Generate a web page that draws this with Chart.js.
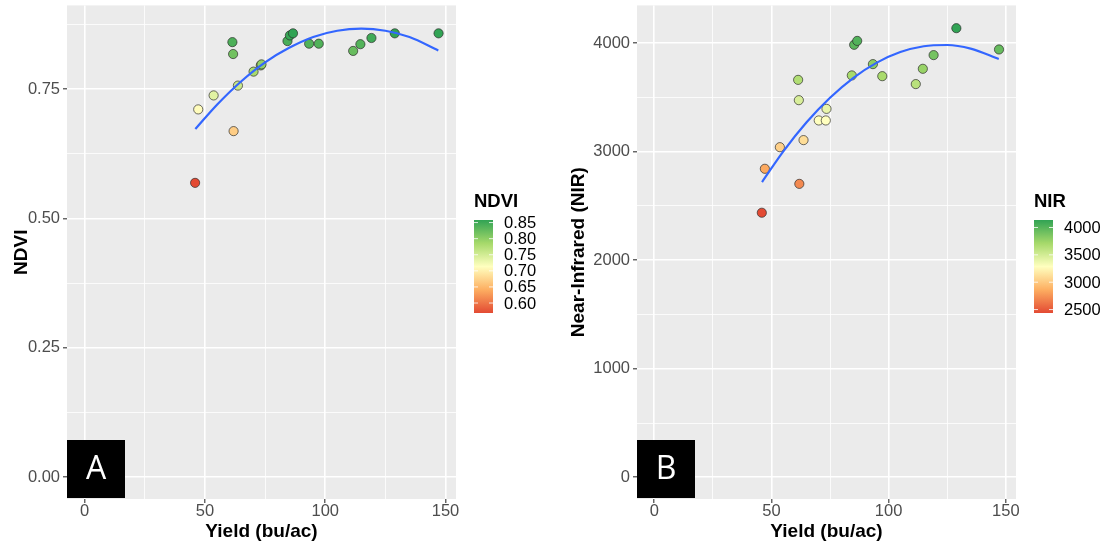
<!DOCTYPE html>
<html>
<head>
<meta charset="utf-8">
<script src="https://cdn.jsdelivr.net/npm/chart.js@4.4.1/dist/chart.umd.min.js"></script>
<style>
    body { margin: 0; background: #fff; width: 1114px; height: 549px; overflow: hidden; position: relative; }
    canvas { position: absolute; top: 0; }
</style>
</head>
<body>
<canvas id="chart_a" width="557" height="549" style="left:0"></canvas>
<canvas id="chart_b" width="557" height="549" style="left:557px"></canvas>
<script>
    // yield per plot, shared by both panels
    const yield_bu = [45.9, 47.2, 53.6, 61.4, 61.7, 61.9, 63.7, 70.2, 73.2, 73.5,
                      84.3, 85.3, 86.6, 93.3, 97.3, 111.6, 114.6, 119.2, 128.9, 147.1];
    const ndvi = [0.569, 0.711, 0.738, 0.841, 0.818, 0.669, 0.757, 0.784, 0.796, 0.798,
                  0.843, 0.854, 0.858, 0.838, 0.838, 0.824, 0.837, 0.849, 0.858, 0.858];
    const nir = [2437, 2842, 3041, 3661, 3474, 2703, 3106, 3287, 3287, 3394,
                 3702, 3984, 4020, 3806, 3695, 3622, 3763, 3889, 4137, 3941];

    // fitted curves
    const fit_x = [46, 55, 65, 75, 85, 95, 105, 115, 125, 135, 147];
    const ndvi_fit = [0.673, 0.720, 0.765, 0.802, 0.830, 0.851, 0.863, 0.867, 0.863, 0.851, 0.825];
    const nir_fit = [2720, 3000, 3270, 3496, 3680, 3820, 3917, 3971, 3982, 3949, 3853];

    const x_major = [0, 50, 100, 150];
    const x_minor = [25, 75, 125];
    const ndvi_major = [0, 0.25, 0.5, 0.75];
    const ndvi_minor = [0.125, 0.375, 0.625, 0.875];
    const nir_major = [0, 1000, 2000, 3000, 4000];
    const nir_minor = [500, 1500, 2500, 3500];
    const ndvi_legend = [0.60, 0.65, 0.70, 0.75, 0.80, 0.85];
    const nir_legend = [2500, 3000, 3500, 4000];

    const ramp = ['#E34A33', '#FDAE61', '#FFFFBF', '#A6D96A', '#31A354'];
    const font_family = "'Liberation Sans', Arial, sans-serif";

    Chart.defaults.font.family = font_family;

    function hexToRgb(h) {
        return [parseInt(h.slice(1, 3), 16), parseInt(h.slice(3, 5), 16), parseInt(h.slice(5, 7), 16)];
    }
    function rampColor(t) {
        t = Math.max(0, Math.min(1, t));
        let seg = Math.min(ramp.length - 2, Math.floor(t * (ramp.length - 1)));
        let f = t * (ramp.length - 1) - seg;
        let a = hexToRgb(ramp[seg]), b = hexToRgb(ramp[seg + 1]);
        let c = a.map((v, i) => Math.round(v + (b[i] - v) * f));
        return `rgb(${c[0]},${c[1]},${c[2]})`;
    }

    const panelBg = {
        id: 'panelBg',
        beforeDraw(chart) {
            const a = chart.chartArea, ctx = chart.ctx;
            ctx.save();
            ctx.fillStyle = '#EBEBEB';
            ctx.fillRect(a.left, a.top, a.right - a.left, a.bottom - a.top);
            ctx.restore();
        }
    };

    const colorbar = {
        id: 'colorbar',
        afterDraw(chart, args, o) {
            const ctx = chart.ctx, a = chart.chartArea;
            const x0 = a.right + 18, top = 220, h = 93, w = 19;
            ctx.save();
            ctx.fillStyle = '#000';
            ctx.font = `bold 18.5px ${font_family}`;
            ctx.textBaseline = 'middle';
            ctx.textAlign = 'left';
            ctx.fillText(o.title, x0, 202);
            const g = ctx.createLinearGradient(0, top + h, 0, top);
            ramp.forEach((c, i) => g.addColorStop(i / (ramp.length - 1), c));
            ctx.fillStyle = g;
            ctx.fillRect(x0, top, w, h);
            ctx.font = `16.5px ${font_family}`;
            ctx.strokeStyle = 'rgba(255,255,255,0.8)';
            ctx.lineWidth = 1;
            o.ticks.forEach(v => {
                const y = top + h - (v - o.min) / (o.max - o.min) * h;
                ctx.beginPath();
                ctx.moveTo(x0, y); ctx.lineTo(x0 + 4, y);
                ctx.moveTo(x0 + w - 4, y); ctx.lineTo(x0 + w, y);
                ctx.stroke();
                ctx.fillStyle = '#000';
                ctx.fillText(o.fmt(v), x0 + 30, y + 1);
            });
            ctx.restore();
        }
    };

    const panelTag = {
        id: 'panelTag',
        afterDraw(chart, args, o) {
            const ctx = chart.ctx, a = chart.chartArea;
            ctx.save();
            ctx.fillStyle = '#000';
            ctx.fillRect(a.left, a.bottom - 59, 58, 58);
            ctx.fillStyle = '#fff';
            ctx.font = "32px 'Open Sans', sans-serif";
            ctx.textAlign = 'center';
            ctx.textBaseline = 'middle';
            ctx.fillText(o.text, a.left + 29, a.bottom - 29);
            ctx.restore();
        }
    };

    function axis(major, minor, min, max, fmt, title, size, horizontal, titlePad) {
        const all = major.concat(minor).sort((p, q) => p - q);
        return {
            type: 'linear',
            min: min,
            max: max,
            border: { display: false },
            afterBuildTicks: s => { s.ticks = all.map(v => ({ value: v })); },
            afterFit: s => {
                if (horizontal) { s.height = size; s.paddingLeft = 0; s.paddingRight = 0; }
                else { s.width = size; s.paddingTop = 0; s.paddingBottom = 0; }
            },
            grid: {
                color: '#FFFFFF',
                lineWidth: c => major.includes(c.tick.value) ? 1.6 : 0.8,
                tickColor: c => major.includes(c.tick.value) ? '#333333' : 'rgba(0,0,0,0)',
                tickWidth: 1.1,
                tickLength: 4,
            },
            ticks: {
                autoSkip: false,
                maxRotation: 0,
                color: '#4D4D4D',
                font: { size: 16.5 },
                padding: horizontal ? -1 : 3,
                callback: v => major.includes(v) ? fmt(v) : '',
            },
            title: {
                display: true,
                text: title,
                color: '#000',
                font: { size: 19, weight: 'bold' },
                padding: titlePad,
            },
        };
    }

    function makeChart(id, values, fit, yMajor, yMinor, yMin, yMax, yFmt, yTitle, yWidth, rightPad, legendTitle, legendTicks, tag) {
        const vmin = Math.min(...values), vmax = Math.max(...values);
        const pts = yield_bu.map((x, i) => ({ x: x, y: values[i] }));
        const line = fit_x.map((x, i) => ({ x: x, y: fit[i] }));
        return new Chart(document.getElementById(id).getContext('2d'), {
            type: 'scatter',
            data: {
                datasets: [{
                    data: line,
                    showLine: true,
                    borderColor: '#3366FF',
                    borderWidth: 2.2,
                    pointRadius: 0,
                    cubicInterpolationMode: 'monotone',
                    order: 0,
                }, {
                    data: pts,
                    pointRadius: 4.6,
                    pointBorderWidth: 0.8,
                    pointBorderColor: 'rgba(40,40,40,0.85)',
                    pointBackgroundColor: values.map(v => rampColor((v - vmin) / (vmax - vmin))),
                    order: 1,
                }],
            },
            options: {
                responsive: false,
                animation: false,
                devicePixelRatio: 1,
                layout: { padding: { left: 0, top: 5, right: rightPad, bottom: 0 } },
                scales: {
                    x: axis(x_major, x_minor, -7.35, 154.35, v => String(v), 'Yield (bu/ac)', 50, true, { top: 0, bottom: 6 }),
                    y: axis(yMajor, yMinor, yMin, yMax, yFmt, yTitle, yWidth, false, { top: 10, bottom: 0 }),
                },
                plugins: {
                    legend: { display: false },
                    tooltip: { enabled: false },
                    colorbar: { title: legendTitle, ticks: legendTicks, min: vmin, max: vmax, fmt: yFmt },
                    panelTag: { text: tag },
                },
            },
            plugins: [panelBg, colorbar, panelTag],
        });
    }

    makeChart('chart_a', ndvi, ndvi_fit, ndvi_major, ndvi_minor, -0.042, 0.912,
              v => v.toFixed(2), 'NDVI', 67, 101, 'NDVI', ndvi_legend, 'A');
    makeChart('chart_b', nir, nir_fit, nir_major, nir_minor, -200, 4347,
              v => String(v), 'Near-Infrared (NIR)', 80, 98, 'NIR', nir_legend, 'B');
</script>
</body>
</html>
